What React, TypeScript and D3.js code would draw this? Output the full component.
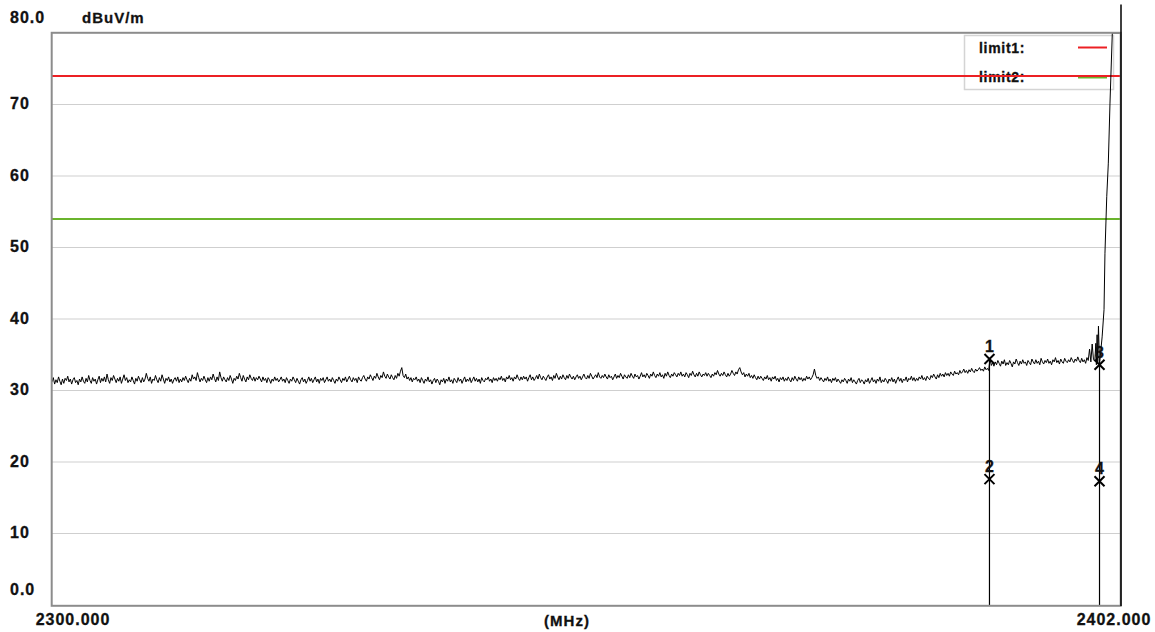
import React from "react";
import * as d3 from "d3";

// ---------- data ----------
const freqStart = 2300;
const freqStep = 0.125;
const traceValues: number[] = [
  31.2, 31.8, 30.9, 31.5, 31.1, 31.9, 31.3, 30.8, 31.6, 31.0, 31.7, 31.4, 32.0, 31.2, 31.6, 30.9, 31.5, 31.8, 31.1, 31.4,
  30.8, 31.6, 31.2, 31.9, 31.3, 31.0, 31.7, 31.2, 32.1, 31.4, 31.0, 31.8, 31.3, 31.6, 30.9, 31.5, 32.0, 31.1, 31.7, 31.3,
  31.9, 31.2, 32.3, 31.5, 31.0, 31.8, 31.4, 32.1, 31.6, 31.1, 31.7, 31.3, 31.9, 31.0, 31.6, 32.2, 31.4, 31.8, 31.1, 31.5,
  31.2, 31.9, 31.4, 30.9, 31.7, 31.3, 32.0, 31.5, 31.1, 31.8, 31.2, 31.6, 32.4, 31.7, 31.3, 31.9, 31.0, 31.6, 31.4, 32.1,
  31.5, 31.1, 31.8, 31.3, 32.2, 31.6, 31.0, 31.7, 31.4, 31.9, 31.2, 31.6, 31.0, 31.5, 31.8, 31.3, 31.9, 31.1, 31.6, 31.2,
  31.8, 31.4, 32.0, 31.5, 31.1, 31.7, 31.3, 32.2, 31.6, 31.9, 31.4, 32.5, 31.8, 31.2, 31.7, 31.4, 32.0, 31.5, 31.1, 31.8,
  31.3, 31.9, 31.5, 32.3, 31.7, 31.2, 31.9, 31.4, 32.6, 31.8, 31.3, 31.9, 31.5, 31.2, 31.8, 31.4, 32.1, 31.6, 31.0, 31.7,
  31.4, 32.0, 31.6, 32.4, 31.8, 31.3, 32.1, 31.6, 31.2, 31.9, 31.5, 32.2, 31.7, 31.4, 31.9, 31.3, 31.8, 31.5, 32.0, 31.6,
  31.2, 31.9, 31.4, 31.7, 31.1, 31.8, 31.5, 31.0, 31.6, 31.3, 31.9, 31.4, 31.7, 31.2, 31.5, 31.9, 31.3, 31.6, 31.1, 31.8,
  31.4, 31.0, 31.6, 31.3, 31.9, 31.5, 31.1, 31.7, 31.3, 30.9, 31.5, 31.8, 31.2, 31.6, 31.0, 31.4, 31.9, 31.3, 31.7, 31.1,
  31.5, 31.9, 31.2, 31.6, 31.0, 31.7, 31.4, 31.8, 31.1, 31.5, 31.9, 31.3, 31.6, 31.2, 31.8, 31.4, 31.0, 31.6, 31.3, 31.9,
  31.5, 31.1, 31.7, 31.4, 31.9, 31.2, 31.6, 32.0, 31.5, 31.2, 31.8, 31.4, 31.7, 31.1, 31.9, 31.5, 31.3, 31.8, 32.1, 31.6,
  31.3, 31.9, 31.6, 32.2, 31.8, 31.4, 32.0, 31.7, 32.4, 31.9, 31.5, 32.1, 31.8, 32.6, 32.0, 31.7, 32.3, 31.9, 31.6, 32.2,
  31.8, 31.5, 32.1, 31.7, 32.4, 32.0, 32.7, 33.2, 32.1, 31.8, 32.3, 31.6, 31.9, 31.4, 31.8, 31.2, 31.7, 31.5, 31.9, 31.3,
  31.6, 31.1, 31.8, 31.4, 31.0, 31.6, 31.3, 31.9, 31.2, 31.5, 30.9, 31.4, 31.7, 31.1, 31.6, 31.3, 30.8, 31.5, 31.2, 31.7,
  31.0, 31.6, 31.3, 31.9, 31.2, 31.5, 31.0, 31.7, 31.4, 31.1, 31.8, 31.3, 31.6, 31.0, 31.5, 31.9, 31.2, 31.6, 31.3, 31.8,
  31.1, 31.5, 31.9, 31.3, 31.7, 31.2, 31.6, 31.0, 31.8, 31.4, 31.2, 31.7, 31.5, 31.9, 31.3, 31.6, 31.1, 31.8, 31.4, 31.7,
  31.3, 31.8, 31.5, 32.0, 31.4, 31.7, 31.2, 31.9, 31.6, 32.1, 31.5, 31.8, 31.3, 31.9, 31.6, 32.2, 31.7, 31.4, 31.9, 31.5,
  32.0, 31.6, 31.9, 31.3, 31.8, 32.2, 31.5, 31.9, 31.4, 31.7, 32.1, 31.6, 32.3, 31.8, 31.5, 32.0, 31.7, 31.4, 31.9, 32.2,
  31.6, 31.9, 31.4, 32.1, 31.7, 32.4, 31.9, 31.5, 32.0, 31.6, 32.2, 31.8, 31.5, 32.1, 31.7, 32.3, 31.9, 31.6, 32.0, 31.5,
  31.9, 32.2, 31.7, 32.0, 31.5, 31.9, 32.3, 31.8, 31.6, 32.1, 31.7, 32.4, 32.0, 31.6, 31.9, 32.2, 31.8, 32.5, 31.9, 31.7,
  32.1, 31.8, 32.3, 31.9, 31.6, 32.2, 31.8, 32.0, 31.5, 31.9, 32.3, 31.7, 32.1, 31.8, 32.4, 32.0, 31.6, 32.2, 31.9, 31.7,
  32.2, 31.8, 32.4, 32.0, 31.7, 32.3, 31.9, 32.1, 31.6, 32.0, 32.5, 31.9, 32.2, 31.8, 32.4, 32.1, 31.7, 32.3, 32.0, 32.6,
  32.1, 31.8, 32.3, 32.0, 32.5, 31.9, 32.2, 31.7, 32.4, 32.0, 32.6, 32.1, 31.8, 32.3, 32.0, 32.5, 32.2, 31.9, 32.4, 32.1,
  32.6, 32.0, 32.3, 31.9, 32.5, 32.2, 31.8, 32.4, 32.1, 32.7, 32.2, 31.9, 32.4, 32.0, 32.6, 32.2, 31.9, 32.3, 32.1, 32.5,
  32.0, 32.4, 32.1, 31.8, 32.3, 32.0, 32.5, 32.2, 32.8, 32.3, 32.0, 32.4, 32.1, 32.6, 32.2, 31.9, 32.4, 32.0, 32.3, 32.8,
  32.4, 32.1, 32.6, 32.3, 32.9, 33.2, 32.6, 32.2, 32.5, 31.9, 32.3, 32.0, 32.4, 31.8, 32.1, 31.7, 32.2, 31.8, 31.5, 32.0,
  31.6, 32.0, 31.7, 31.4, 31.9, 31.6, 32.1, 31.5, 31.8, 31.3, 31.9, 31.6, 32.0, 31.4, 31.7, 31.2, 31.8, 31.5, 31.9, 31.3,
  31.7, 31.4, 31.9, 31.5, 31.2, 31.8, 31.4, 32.0, 31.6, 31.3, 31.9, 31.5, 31.8, 31.3, 31.7, 31.4, 32.0, 31.6, 31.9, 31.5,
  31.8, 32.2, 33.0, 32.1, 31.7, 31.9, 31.4, 31.8, 31.5, 31.2, 31.7, 31.4, 31.9, 31.3, 31.6, 31.1, 31.7, 31.4, 31.8, 31.2,
  31.6, 31.3, 31.0, 31.5, 31.2, 31.7, 31.4, 31.0, 31.6, 31.3, 31.8, 31.1, 31.5, 31.2, 30.9, 31.4, 31.7, 31.1, 31.5, 31.3,
  30.9, 31.5, 31.2, 31.7, 31.0, 31.4, 31.8, 31.2, 31.5, 31.0, 31.6, 31.3, 31.9, 31.1, 31.5, 31.2, 31.7, 31.4, 31.0, 31.6,
  31.3, 31.8, 31.2, 31.6, 31.0, 31.5, 31.9, 31.3, 31.7, 31.1, 31.6, 31.4, 31.9, 31.2, 31.7, 31.5, 32.0, 31.4, 31.8, 31.3,
  31.7, 31.4, 31.9, 31.6, 32.1, 31.5, 31.8, 31.4, 32.0, 31.7, 31.5, 32.1, 31.8, 32.3, 31.9, 31.6, 32.2, 31.8, 32.4, 32.0,
  32.3, 31.9, 32.5, 32.1, 32.4, 32.0, 32.6, 32.3, 32.1, 32.7, 32.3, 32.5, 32.2, 32.8, 32.4, 32.6, 33.0, 32.5, 32.8, 32.4,
  32.9, 32.6, 33.1, 32.7, 32.5, 33.0, 32.7, 32.9, 33.2, 32.8, 33.0, 32.7, 33.3, 32.9, 33.1, 32.8, 34.4, 33.5, 33.9, 33.4,
  34.0, 33.6, 34.2, 33.8, 33.4, 34.1, 33.7, 34.3, 33.5, 33.9, 33.6, 34.2, 33.8, 33.3, 34.0, 33.7, 34.4, 33.9, 33.5, 34.1,
  33.7, 34.3, 33.8, 34.0, 33.5, 34.2, 33.9, 33.6, 34.4, 34.0, 33.7, 34.3, 33.8, 34.1, 33.6, 34.5, 34.0, 33.7, 34.2, 33.9,
  34.4, 33.8, 34.1, 33.6, 34.3, 34.0, 34.6, 33.9, 34.2, 33.7, 34.4, 34.0, 33.8, 34.5, 34.1, 33.9, 34.3, 34.0, 34.6, 34.2,
  33.9, 34.4, 34.1, 34.7, 34.2, 33.9, 34.5, 34.0, 34.3, 33.8, 34.6, 34.2, 35.8, 34.0, 36.5, 34.3, 34.1,
];
const tailFreqs = [2399.6, 2399.65, 2399.72, 2399.78, 2399.85, 2399.95, 2400.1, 2400.2, 2400.38, 2400.47, 2400.64, 2400.79, 2400.95, 2401.17, 2402.0];
const tailValues = [36.6, 33.6, 37.8, 34.0, 39.0, 33.6, 36.0, 37.5, 41.3, 49.2, 57.1, 61.8, 70.2, 80.0, 80.0];

const edgeFreq = 2402.0;
const edgeTop = 84;

const limitNames = ["limit1:", "limit2:"];
const limitValues = [74, 54];
const limitColors = ["#ec2024", "#6ab42d"];

const markerLabels = ["1", "2", "3", "4"];
const markerFreqs = [2389.45, 2389.45, 2399.95, 2399.95];
const markerValues = [34.4, 17.6, 33.6, 17.3];

const yTicks = [0, 10, 20, 30, 40, 50, 60, 70, 80];
const yTickLabels = ["0.0", "10", "20", "30", "40", "50", "60", "70", "80.0"];
const xDomain = [2300, 2402];
const xTickLabels = ["2300.000", "2402.000"];
const yUnit = "dBuV/m";
const xUnit = "(MHz)";

// ---------- layout ----------
const W = 1155;
const H = 632;
const L = 52;
const R = 1121;
const T = 33;
const B = 605;
const FONT = "'Liberation Sans', Arial, sans-serif";

export default function App() {
  const x = d3.scaleLinear().domain(xDomain).range([L, R]);
  const y = d3.scaleLinear().domain([0, 80]).range([B, T]);

  const pts: [number, number][] = traceValues.map((v, i) => [freqStart + i * freqStep, v]);
  tailFreqs.forEach((f, i) => pts.push([f, tailValues[i]]));
  const line = d3
    .line<[number, number]>()
    .x((d) => x(d[0]))
    .y((d) => y(d[1]));
  const traceD = line(pts) || "";

  const markerLineFreqs = Array.from(new Set(markerFreqs));

  const lblStyle: React.CSSProperties = {
    fontFamily: FONT,
    fontWeight: 700,
    fontSize: 16,
    letterSpacing: 1,
  };

  return (
    <svg
      width={W}
      height={H}
      viewBox={`0 0 ${W} ${H}`}
      style={{ position: "absolute", left: 0, top: 0, background: "#fff" }}
    >
      <defs>
        <clipPath id="plotClip">
          <rect x={L} y={T} width={R - L} height={B - T} />
        </clipPath>
      </defs>
      <rect x={0} y={0} width={W} height={H} fill="#fff" />

      {/* gridlines */}
      {yTicks
        .filter((t) => t > 0 && t < 80)
        .map((t) => (
          <line key={t} x1={L} x2={R} y1={y(t)} y2={y(t)} stroke="#cfcfcf" strokeWidth={1} />
        ))}

      {/* y labels */}
      {yTicks.map((t, i) => {
        let yy = y(t) + 4.5;
        if (t === 0) yy = 595;
        if (t === 80) yy = 23;
        return (
          <text key={t} x={10} y={yy} style={lblStyle} fill="#111" stroke="#111" strokeWidth={0.3}>
            {yTickLabels[i]}
          </text>
        );
      })}
      <text x={82} y={23} style={{ ...lblStyle, fontSize: 15 }} fill="#111" stroke="#111" strokeWidth={0.3}>
        {yUnit}
      </text>

      {/* x labels */}
      <text x={73} y={625} textAnchor="middle" style={lblStyle} fill="#111" stroke="#111" strokeWidth={0.3}>
        {xTickLabels[0]}
      </text>
      <text x={567} y={626} textAnchor="middle" style={{ ...lblStyle, fontSize: 15 }} fill="#111" stroke="#111" strokeWidth={0.3}>
        {xUnit}
      </text>
      <text x={1114} y={625} textAnchor="middle" style={lblStyle} fill="#111" stroke="#111" strokeWidth={0.3}>
        {xTickLabels[1]}
      </text>

      {/* legend */}
      <rect x={964.5} y={35.5} width={149} height={54} fill="#fff" stroke="#d4d4d4" strokeWidth={1.5} />
      {limitNames.map((n, i) => (
        <g key={n}>
          <text
            x={979}
            y={53 + i * 29}
            style={{ fontFamily: FONT, fontWeight: 700, fontSize: 14, letterSpacing: 0.7 }}
            fill="#111"
            stroke="#111"
            strokeWidth={0.3}
          >
            {n}
          </text>
          <line
            x1={1078}
            x2={1107}
            y1={47.5 + i * 30}
            y2={47.5 + i * 30}
            stroke={limitColors[i]}
            strokeWidth={2}
          />
        </g>
      ))}

      {/* limit lines */}
      {limitValues.map((v, i) => (
        <line key={i} x1={L} x2={R} y1={y(v)} y2={y(v)} stroke={limitColors[i]} strokeWidth={2} />
      ))}

      {/* trace */}
      <path d={traceD} fill="none" stroke="#000" strokeWidth={1} clipPath="url(#plotClip)" />

      {/* marker vertical lines */}
      {markerLineFreqs.map((f) => {
        const top = d3.max(markerFreqs.map((mf, i) => (mf === f ? markerValues[i] : -Infinity))) as number;
        return <line key={f} x1={x(f)} x2={x(f)} y1={y(top)} y2={B} stroke="#000" strokeWidth={1.2} />;
      })}

      {/* markers */}
      {markerLabels.map((lab, i) => {
        const cx = x(markerFreqs[i]);
        const cy = y(markerValues[i]);
        const s = 5;
        return (
          <g key={lab}>
            <path
              d={`M${cx - s},${cy - s}L${cx + s},${cy + s}M${cx + s},${cy - s}L${cx - s},${cy + s}`}
              stroke="#000"
              strokeWidth={2}
            />
            <text
              x={cx}
              y={cy - 7}
              textAnchor="middle"
              style={{ fontFamily: FONT, fontWeight: 700, fontSize: 16 }}
              fill="#111"
              stroke="#111"
              strokeWidth={0.3}
            >
              {lab}
            </text>
          </g>
        );
      })}

      {/* frame */}
      <rect x={L - 0.3} y={T - 0.2} width={R - L} height={B - T + 1} fill="none" stroke="#8c8c8c" strokeWidth={2} />

      {/* trace edge at the right border */}
      <line x1={x(edgeFreq)} x2={x(edgeFreq)} y1={y(edgeTop)} y2={B + 1} stroke="#000" strokeWidth={1.5} />
    </svg>
  );
}
